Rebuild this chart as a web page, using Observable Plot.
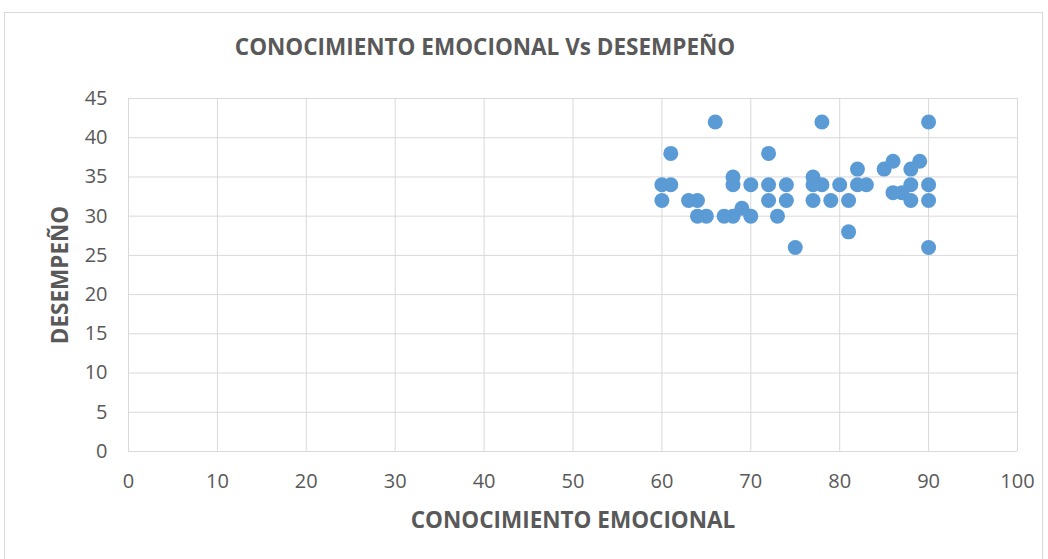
<!DOCTYPE html>
<html>
<head>
<meta charset="utf-8">
<script src="https://cdn.jsdelivr.net/npm/d3@7"></script>
<script src="https://cdn.jsdelivr.net/npm/@observablehq/plot@0.6"></script>
<style>
  body { margin: 0; background: #fff; }
  #wrap { position: relative; width: 1048px; height: 559px; overflow: hidden; }
  #frame { position: absolute; left: 4px; top: 12px; width: 1039px; height: 600px; border: 1px solid #d9d9d9; box-sizing: border-box; }
  #chart { position: absolute; left: 0; top: 0; }
</style>
</head>
<body>
<div id="wrap"><div id="frame"></div><div id="chart"></div></div>
<script>
const title = "CONOCIMIENTO EMOCIONAL Vs DESEMPEÑO";
const xLabel = "CONOCIMIENTO EMOCIONAL";
const yLabel = "DESEMPEÑO";
const xTicks = [0,10,20,30,40,50,60,70,80,90,100];
const yTicks = [0,5,10,15,20,25,30,35,40,45];
const conocimiento = [60,60,61,61,63,64,64,65,66,67,68,68,68,69,70,70,72,72,72,73,74,74,75,77,77,77,78,78,79,80,81,81,82,82,83,85,86,86,87,88,88,88,89,90,90,90,90];
const desempeno    = [34,32,38,34,32,32,30,30,42,30,30,35,34,31,34,30,38,34,32,30,34,32,26,35,34,32,42,34,32,34,32,28,36,34,34,36,37,33,33,36,34,32,37,42,34,32,26];

const data = conocimiento.map((x, i) => ({x, y: desempeno[i]}));
const font = "'Open Sans', sans-serif";
const grey = "#595959";

const chart = Plot.plot({
  width: 1048,
  height: 559,
  marginLeft: 128,
  marginRight: 31,
  marginTop: 98,
  marginBottom: 108,
  style: { fontFamily: font, background: "transparent", color: grey },
  x: { domain: [0, 100] },
  y: { domain: [0, 45] },
  marks: [
    Plot.gridX(xTicks, { stroke: "#d9d9d9", strokeOpacity: 1, strokeWidth: 1 }),
    Plot.gridY(yTicks, { stroke: "#d9d9d9", strokeOpacity: 1, strokeWidth: 1 }),
    Plot.axisX(xTicks, { tickSize: 0, tickPadding: 22, fontSize: 20, fill: grey, label: null }),
    Plot.axisY(yTicks, { tickSize: 0, tickPadding: 21, fontSize: 20, fill: grey, label: null }),
    Plot.dot(data, { x: "x", y: "y", r: 7.5, fill: "#5b9bd5", stroke: "none" }),
    Plot.text([title], { frameAnchor: "top", lineAnchor: "middle", dx: -88, dy: -51, text: d => d, fontSize: 22.5, fontWeight: "bold", fill: grey }),
    Plot.text([xLabel], { frameAnchor: "bottom", lineAnchor: "middle", dy: 69, text: d => d, fontSize: 22.5, fontWeight: "bold", fill: grey }),
    Plot.text([yLabel], { frameAnchor: "left", textAnchor: "middle", lineAnchor: "middle", dx: -68, rotate: -90, text: d => d, fontSize: 22.5, fontWeight: "bold", fill: grey })
  ]
});
document.getElementById("chart").appendChild(chart);
</script>
</body>
</html>
